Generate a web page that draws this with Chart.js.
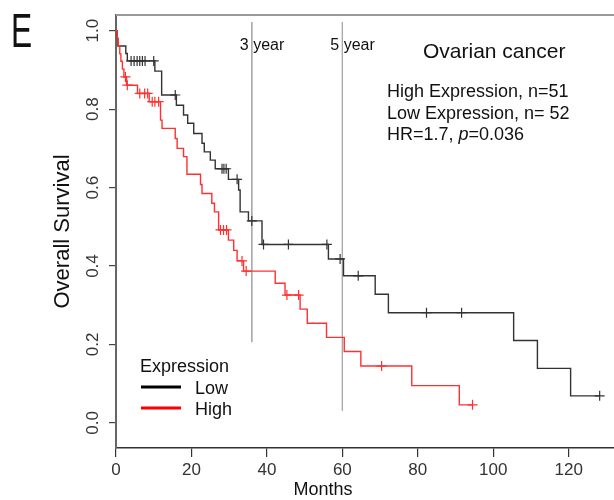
<!DOCTYPE html>
<html>
<head>
<meta charset="utf-8">
<script src="https://cdn.jsdelivr.net/npm/chart.js@4.4.1/dist/chart.umd.min.js"></script>
<style>
  html, body { margin: 0; padding: 0; background: #fff; overflow: hidden; }
  canvas { display: block; }
</style>
</head>
<body>
<canvas id="myChart" width="614" height="500"></canvas>
<script>
// Low expression (black): event times (months) and survival after each event
var lowTimes = [0.3, 0.5, 2.6, 3.0, 10.3, 12.1, 16.0, 17.9, 19.0, 20.6, 22.8, 23.4, 25.0, 26.3, 29.8, 32.5, 32.9, 35.1, 38.7, 56.3, 60.3, 68.7, 72.2, 105.4, 111.7, 120.5];
var lowSurv = [0.980, 0.961, 0.942, 0.923, 0.897, 0.836, 0.810, 0.785, 0.764, 0.738, 0.713, 0.691, 0.670, 0.648, 0.621, 0.594, 0.538, 0.515, 0.455, 0.418, 0.375, 0.328, 0.281, 0.210, 0.139, 0.069];
var lowCensor = [4.0, 4.8, 5.6, 6.3, 7.0, 7.7, 10.0, 15.7, 28.1, 28.6, 29.2, 32.1, 36.0, 39.1, 45.7, 55.9, 59.4, 64.2, 82.3, 91.6, 128.2];

// High expression (red)
var highTimes = [0.3, 0.6, 1.0, 1.3, 1.7, 2.1, 2.8, 5.7, 8.8, 11.8, 12.2, 15.7, 16.2, 17.9, 18.8, 22.4, 22.8, 25.4, 26.1, 27.2, 29.8, 31.2, 32.1, 33.8, 42.2, 44.8, 48.8, 50.7, 55.8, 60.5, 64.9, 78.4, 91.0];
var highSurv = [0.980, 0.961, 0.941, 0.922, 0.902, 0.882, 0.861, 0.840, 0.819, 0.772, 0.751, 0.725, 0.700, 0.679, 0.634, 0.608, 0.585, 0.560, 0.538, 0.492, 0.466, 0.440, 0.413, 0.387, 0.356, 0.326, 0.290, 0.254, 0.218, 0.182, 0.145, 0.095, 0.046];
var highCensor = [2.5, 3.0, 6.3, 7.6, 8.4, 9.6, 10.3, 11.3, 27.7, 28.5, 29.3, 33.4, 34.5, 45.3, 48.4, 70.4, 94.5];

// 3 and 5 year marker lines
var yearMarks = [36, 60];
var yearLabels = ['3 year', '5 year'];
var yearLineTop = [1.022, 1.022];
var yearLineBottom = [0.206, 0.031];

var xTicks = [0, 20, 40, 60, 80, 100, 120];
var yTicks = [0, 0.2, 0.4, 0.6, 0.8, 1.0];

var infoTitle = 'Ovarian cancer';
var infoLines = ['High Expression, n=51', 'Low Expression, n= 52'];
var hrText = 'HR=1.7, ';
var pValue = '=0.036';

var FONT = '"Liberation Sans", Arial, sans-serif';

function survAt(times, surv, t) {
    var s = 1;
    for (var i = 0; i < times.length; i++) {
        if (times[i] <= t) s = surv[i];
    }
    return s;
}

function curvePoints(times, surv, censor) {
    var pts = [{x: 0, y: 1}];
    for (var i = 0; i < times.length; i++) pts.push({x: times[i], y: surv[i]});
    var last = censor[censor.length - 1];
    if (last > times[times.length - 1]) pts.push({x: last, y: surv[surv.length - 1]});
    return pts;
}

function censorPoints(times, surv, censor) {
    return censor.map(function(t) { return {x: t, y: survAt(times, surv, t)}; });
}

var datasets = [
    {
        label: 'Low', data: curvePoints(lowTimes, lowSurv, lowCensor),
        borderColor: '#333333', borderWidth: 1.4, stepped: 'before', pointRadius: 0, fill: false, order: 2
    },
    {
        label: 'High', data: curvePoints(highTimes, highSurv, highCensor),
        borderColor: '#ff3030', borderWidth: 1.4, stepped: 'before', pointRadius: 0, fill: false, order: 1
    },
    {
        label: 'lowCensor', type: 'scatter', data: censorPoints(lowTimes, lowSurv, lowCensor),
        pointStyle: 'cross', pointRadius: 5, borderColor: '#333333', borderWidth: 1.2, order: 0
    },
    {
        label: 'highCensor', type: 'scatter', data: censorPoints(highTimes, highSurv, highCensor),
        pointStyle: 'cross', pointRadius: 5, borderColor: '#ff3030', borderWidth: 1.2, order: 0
    }
];

yearMarks.forEach(function(m, i) {
    datasets.push({
        label: yearLabels[i],
        data: [{x: m, y: yearLineTop[i]}, {x: m, y: yearLineBottom[i]}],
        borderColor: '#aaaaaa', borderWidth: 1, pointRadius: 0, fill: false, order: 5
    });
});

var decor = {
    id: 'decor',
    beforeDatasetsDraw: function(chart) {
        var ctx = chart.ctx, a = chart.chartArea;
        ctx.save();
        ctx.strokeStyle = '#999999';
        ctx.lineWidth = 2;
        ctx.beginPath();
        ctx.moveTo(a.left, a.top);
        ctx.lineTo(a.right, a.top);
        ctx.stroke();
        ctx.restore();
    },
    afterDraw: function(chart) {
        var ctx = chart.ctx, xs = chart.scales.x;
        ctx.save();
        ctx.fillStyle = '#111111';
        ctx.textBaseline = 'alphabetic';

        // panel letter (narrow, like the original)
        ctx.save();
        ctx.translate(11, 47);
        ctx.scale(0.66, 1);
        ctx.font = '48px ' + FONT;
        ctx.fillText('E', 0, 0);
        ctx.restore();

        // year labels
        ctx.font = '16px ' + FONT;
        yearMarks.forEach(function(m, i) {
            ctx.fillText(yearLabels[i], xs.getPixelForValue(m) - 12, 50);
        });

        // info text
        ctx.font = '21px ' + FONT;
        ctx.fillText(infoTitle, 423, 58);
        ctx.font = '18px ' + FONT;
        ctx.fillText(infoLines[0], 387, 97);
        ctx.fillText(infoLines[1], 387, 119);
        var x = 387;
        ctx.fillText(hrText, x, 140);
        x += ctx.measureText(hrText).width;
        ctx.font = 'italic 18px ' + FONT;
        ctx.fillText('p', x, 140);
        x += ctx.measureText('p').width;
        ctx.font = '18px ' + FONT;
        ctx.fillText(pValue, x, 140);

        // x axis title
        ctx.font = '18px ' + FONT;
        ctx.textAlign = 'center';
        ctx.fillText('Months', 323, 495);

        // legend
        ctx.textAlign = 'left';
        ctx.fillText('Expression', 140, 372);
        [0, 1].forEach(function(i) {
            var ds = chart.data.datasets[i];
            var y = 387 + i * 21;
            ctx.strokeStyle = i === 0 ? '#000000' : '#ff0000';
            ctx.lineWidth = 3;
            ctx.beginPath();
            ctx.moveTo(141, y);
            ctx.lineTo(181, y);
            ctx.stroke();
            ctx.fillText(ds.label, 195, y + 7);
        });
        ctx.restore();
    }
};

var ctx = document.getElementById('myChart').getContext('2d');
var myChart = new Chart(ctx, {
    type: 'line',
    data: { datasets: datasets },
    options: {
        responsive: false,
        animation: false,
        devicePixelRatio: 1,
        layout: { autoPadding: false, padding: { top: 15, right: 0, bottom: 0, left: 0 } },
        plugins: { legend: { display: false }, tooltip: { enabled: false } },
        scales: {
            x: {
                type: 'linear', min: 0, max: 132,
                afterFit: function(scale) { scale.height = 52; scale.paddingRight = 0; scale.paddingLeft = 0; },
                afterBuildTicks: function(scale) { scale.ticks = xTicks.map(function(v) { return {value: v}; }); },
                ticks: { font: { size: 17, family: FONT }, color: '#333333', padding: 3, maxRotation: 0 },
                grid: { drawOnChartArea: false, drawTicks: true, tickLength: 9, color: '#333333', lineWidth: 1.2 },
                border: { display: true, color: '#333333', width: 1.5 }
            },
            y: {
                type: 'linear', min: -0.064, max: 1.04,
                afterFit: function(scale) { scale.width = 116; scale.paddingTop = 0; scale.paddingBottom = 0; },
                afterBuildTicks: function(scale) { scale.ticks = yTicks.map(function(v) { return {value: v}; }); },
                ticks: {
                    font: { size: 17, family: FONT }, color: '#333333', padding: 4,
                    minRotation: 90, maxRotation: 90, crossAlign: 'center',
                    callback: function(v) { return v.toFixed(1); }
                },
                grid: { drawOnChartArea: false, drawTicks: true, tickLength: 7, color: '#444444', lineWidth: 1.2 },
                border: { display: true, color: '#666666', width: 2 },
                title: {
                    display: true, text: 'Overall Survival', color: '#111111',
                    font: { size: 22, family: FONT }, padding: { top: 50, bottom: 0 }
                }
            }
        }
    },
    plugins: [decor]
});
</script>
</body>
</html>
